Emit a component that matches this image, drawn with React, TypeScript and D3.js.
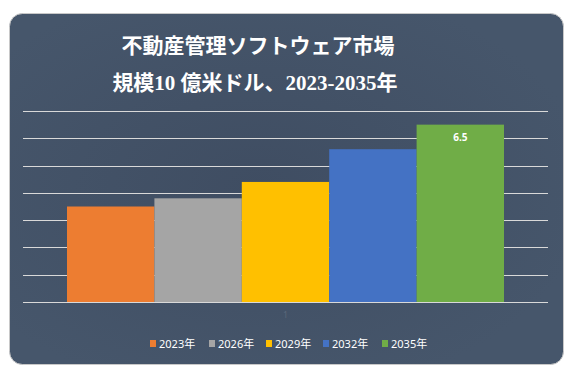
import React from "react";
import * as d3 from "d3";

const years = ["2023年", "2026年", "2029年", "2032年", "2035年"];
const values = [3.5, 3.8, 4.4, 5.6, 6.5];
const colors = ["#ED7D31", "#A5A5A5", "#FFC000", "#4472C4", "#70AD47"];
const yTicks = [0, 1, 2, 3, 4, 5, 6, 7];
const titleLines = ["不動産管理ソフトウェア市場", "規模10 億米ドル、2023-2035年"];
const labeledIndex = 4;
const categoryLabel = "1";

const W = 577;
const H = 376;

export default function App() {
  const y = d3.scaleLinear().domain([0, 7]).range([302, 111]);
  const x = d3.scaleBand<string>().domain(years).range([67, 504]).padding(0);
  const gridX0 = 23;
  const gridX1 = 548;
  const legendX = [150, 209, 266, 323, 382];
  const titleFont = "'Liberation Serif', 'Noto Sans CJK JP', serif";
  const sansFont = "'Noto Sans', 'Noto Sans CJK JP', sans-serif";

  return (
    <div style={{ position: "fixed", left: 0, top: 0, width: W, height: H, background: "#fff" }}>
      <svg width={W} height={H} style={{ display: "block" }}>
        <defs>
          <radialGradient id="bgGrad" cx="0.45" cy="0.5" r="0.6">
            <stop offset="0" stopColor="#3f4d62" />
            <stop offset="1" stopColor="#46566b" />
          </radialGradient>
        </defs>
        <rect x={9.5} y={13.5} width={554} height={351} rx={13} ry={13} fill="url(#bgGrad)" stroke="#c8c8c8" strokeWidth={1} />
        {titleLines.map((t, i) => (
          <text
            key={i}
            x={i === 0 ? 258 : 255}
            y={i === 0 ? 53 : 90}
            textAnchor="middle"
            fill="#ffffff"
            fontFamily={titleFont}
            fontWeight="bold"
            fontSize={21}
          >
            {t}
          </text>
        ))}
        {yTicks.map((v) => (
          <line key={v} x1={gridX0} x2={gridX1} y1={Math.round(y(v)) + 0.5} y2={Math.round(y(v)) + 0.5} stroke="#d9d9d9" strokeWidth={1.2} />
        ))}
        {years.map((yr, i) => (
          <rect key={yr} x={x(yr)!} y={y(values[i])} width={x.bandwidth()} height={y(0) - y(values[i])} fill={colors[i]} />
        ))}
        <text
          x={(x(years[labeledIndex])! + x.bandwidth() / 2)}
          y={y(values[labeledIndex]) + 16}
          textAnchor="middle"
          fill="#ffffff"
          fontFamily={sansFont}
          fontWeight="bold"
          fontSize={10}
        >
          {values[labeledIndex]}
        </text>
        <text x={285.5} y={318} textAnchor="middle" fill="#5d697b" fontFamily={sansFont} fontSize={8}>
          {categoryLabel}
        </text>
        {years.map((yr, i) => (
          <g key={"lg" + yr}>
            <rect x={legendX[i]} y={340} width={6} height={7} fill={colors[i]} />
            <text x={legendX[i] + 9} y={348} fill="#ffffff" fontFamily={sansFont} fontSize={11}>
              {yr}
            </text>
          </g>
        ))}
      </svg>
    </div>
  );
}
